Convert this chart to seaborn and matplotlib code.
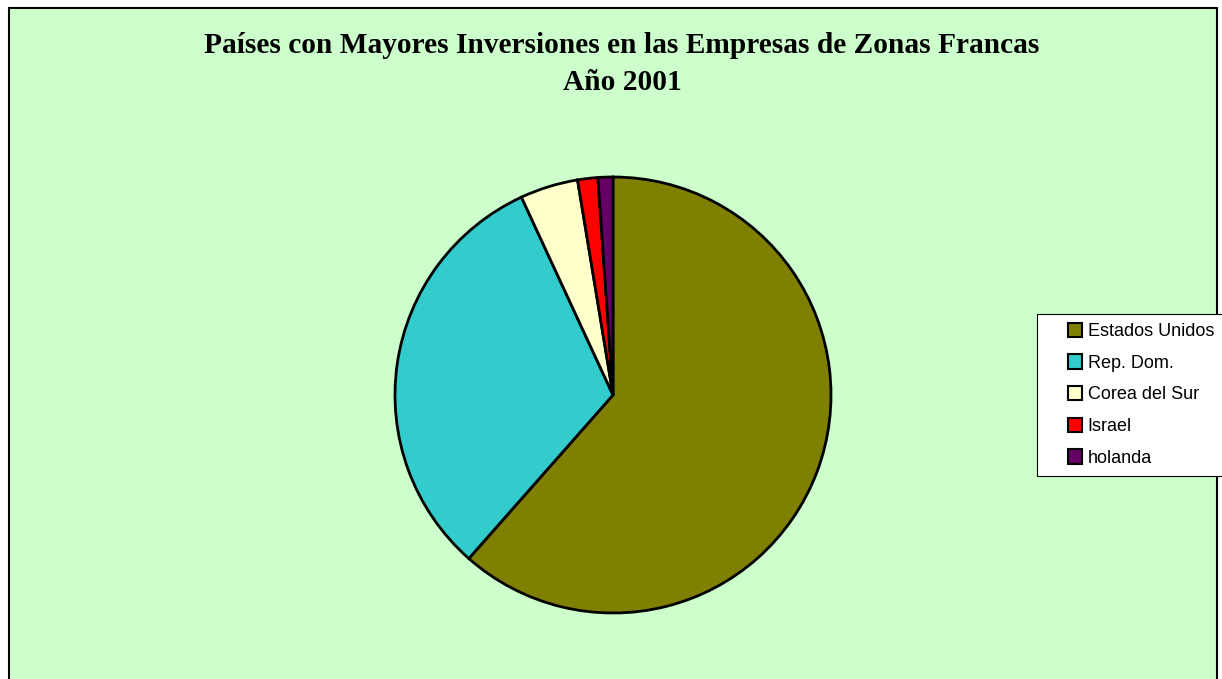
import matplotlib.pyplot as plt
import seaborn as sns
from matplotlib.legend_handler import HandlerPatch
from matplotlib.patches import Rectangle

countries = ["Estados Unidos", "Rep. Dom.", "Corea del Sur", "Israel", "holanda"]
shares = [61.5, 31.6, 4.3, 1.5, 1.1]
colors = ["#808000", "#33CCCC", "#FFFFCC", "#FF0000", "#660066"]

TITLE = "Países con Mayores Inversiones en las Empresas de Zonas Francas\nAño 2001"


def square_handle(legend, orig_handle, xdescent, ydescent, width, height, fontsize):
    # small square sitting at the right end of the handle box
    side = 0.8 * fontsize
    return Rectangle((width - side - xdescent, (height - side) / 2 - ydescent), side, side)


def main() -> None:
    sns.set_style("white")
    plt.rcParams["font.family"] = ["Liberation Sans", "DejaVu Sans"]
    plt.rcParams["text.color"] = "black"

    fig = plt.figure(figsize=(12.22, 6.79), dpi=100)
    fig.patch.set_facecolor("white")

    # green chart area with black border
    W, H = 1222, 679
    fig.patches.append(Rectangle((9 / W, -0.05), (1217 - 9) / W, (H - 8) / H + 0.05,
                                 transform=fig.transFigure, facecolor="#CCFFCC",
                                 edgecolor="black", linewidth=1.5, zorder=-10))

    fig.text(622 / W, 1 - 64 / H, TITLE, ha="center", va="center", color="black",
             fontsize=21.2, fontweight="bold", family=["Liberation Serif"],
             linespacing=1.45)

    ax = fig.add_axes([395 / W, (H - 613) / H, 436 / W, 436 / H])
    ax.patch.set_alpha(0)
    wedges, _ = ax.pie(shares, colors=colors, startangle=90, counterclock=False,
                       radius=1, wedgeprops={"edgecolor": "black", "linewidth": 2,
                                             "clip_on": False})
    ax.set_xlim(-1, 1)
    ax.set_ylim(-1, 1)
    ax.set_aspect("equal")
    ax.axis("off")

    leg = fig.legend(wedges, countries, loc="upper left",
                     bbox_to_anchor=(1037 / W, 1 - 314 / H),
                     fontsize=13, frameon=True, fancybox=False, framealpha=1,
                     edgecolor="black", facecolor="white",
                     handlelength=2.0, handleheight=0.8, handletextpad=0.3,
                     labelspacing=0.8, borderpad=0.5, borderaxespad=0,
                     handler_map={p: HandlerPatch(patch_func=square_handle) for p in wedges})
    leg.get_frame().set_linewidth(0.8)
    for h in leg.legend_handles:
        h.set_linewidth(1.5)
        h.set_edgecolor("black")

    fig.savefig("out.png", dpi=100)


if __name__ == "__main__":
    main()
